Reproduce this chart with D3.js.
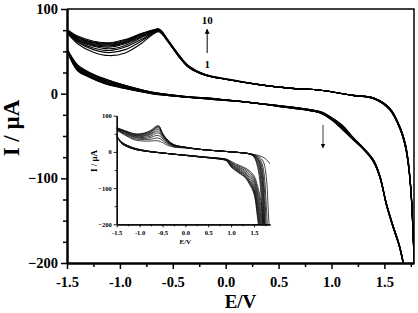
<!DOCTYPE html>
<html lang="en">
<head>
    <meta charset="UTF-8">
    <title>Cyclic voltammograms</title>
    <script src="https://cdn.jsdelivr.net/npm/d3@7"></script>
</head>
<style>
    body { margin: 0; background: #fff; }
    svg { display: block; font-family: "Liberation Serif", "Times New Roman", serif; font-weight: bold; }
</style>
<body>
    <div id="graphDiv"></div>

    <script>
        // ---- main plot: potentials (V) for each branch, currents (uA) per cycle 1..10
        var mainUpperE = [-1.5, -1.4, -1.25, -1.1, -0.95, -0.8, -0.7, -0.63, -0.55, -0.45, -0.35, -0.2, 0, 0.3, 0.6, 0.9, 1.2, 1.4, 1.55, 1.65, 1.7, 1.73, 1.755, 1.775, 1.79]
        var mainUpper = [
            [72, 59, 49, 45, 48, 59, 69, 73, 62, 45, 31, 22, 17, 11, 6.5, 4, -2, -5, -17, -40, -60, -84, -120, -175, -230],
            [72, 61, 52, 48.5, 52, 62, 70, 74, 62, 45, 31, 22, 17, 11, 6.5, 4, -2, -5, -17, -40, -60, -84, -120, -175, -230],
            [73, 62, 54, 51, 55, 64, 71, 74, 63, 45, 31, 22, 17, 11, 6.5, 4, -2, -5, -17, -40, -61, -85, -121, -176, -230],
            [73, 63, 56, 53, 57, 66, 72, 75, 63, 46, 31, 22, 17, 11, 6.5, 4, -2, -5, -18, -41, -61, -85, -121, -176, -231],
            [74, 64, 57, 55, 59, 67, 72, 75, 63, 46, 32, 22, 17, 11, 6.5, 4, -2, -5, -18, -41, -62, -86, -122, -177, -231],
            [74, 65, 58, 56.5, 60, 68, 73, 75, 64, 46, 32, 22, 17, 11, 6.5, 4, -2, -5, -18, -41, -62, -86, -122, -177, -232],
            [75, 66, 59, 57.5, 61, 69, 73, 76, 64, 46, 32, 23, 17, 11, 6.5, 4, -2, -6, -18, -42, -63, -87, -123, -178, -232],
            [75, 66.5, 60, 58.5, 62, 70, 74, 76, 64, 47, 32, 23, 17, 11, 6.5, 4, -2, -6, -19, -42, -63, -87, -123, -178, -233],
            [76, 67, 61, 59.3, 63, 70.5, 74, 76, 64, 47, 32, 23, 17, 11, 6.5, 4, -2, -6, -19, -42, -64, -88, -124, -179, -233],
            [76, 68, 62, 60, 64, 71, 75, 76, 64, 47, 33, 23, 18, 11, 6.5, 4, -2, -6, -19, -43, -64, -88, -124, -179, -234]
        ]
        var mainLowerE = [1.74, 1.7, 1.68, 1.64, 1.58, 1.52, 1.46, 1.4, 1.3, 1.2, 1.1, 1.0, 0.9, 0.75, 0.5, 0.2, -0.1, -0.4, -0.7, -0.95, -1.15, -1.3, -1.4, -1.5]
        var mainLower = [
            [-260, -215, -200, -178, -155, -130, -98, -79, -64, -51, -37, -28, -21.5, -18, -14, -10, -6, -3, 2, 10, 18, 26, 34, 53],
            [-260, -215, -200, -178, -155, -130, -98, -79, -64, -51.5, -37.5, -28.5, -21.5, -18, -14, -10, -6, -3, 2, 9.5, 17.5, 25, 33, 53],
            [-260, -215, -200, -178, -155, -130, -98, -79, -64, -51.5, -38, -28.5, -22, -18, -14, -10, -6, -3, 1.5, 9, 16.5, 24.5, 32, 52],
            [-261, -216, -201, -179, -156, -131, -99, -80, -64.5, -52, -38.5, -29, -22, -18.5, -14.5, -10, -6, -3.5, 1.5, 8.5, 16, 24, 31, 52],
            [-261, -216, -201, -179, -156, -131, -99, -80, -64.5, -52.5, -39, -29.5, -22.5, -18.5, -14.5, -10, -6.5, -3.5, 1, 8, 15, 23, 30.5, 52],
            [-261, -216, -201, -179, -156, -131, -99, -80, -65, -52.5, -40, -29.5, -22.5, -18.5, -14.5, -10, -6.5, -3.5, 1, 7.5, 14.5, 22, 30, 52],
            [-262, -217, -202, -180, -157, -132, -100, -81, -65, -53, -40.5, -30, -22.5, -19, -15, -10, -6.5, -4, 0.5, 7, 13.5, 21.5, 29, 51],
            [-262, -217, -202, -180, -157, -132, -100, -81, -65, -53.5, -41, -30.5, -23, -19, -15, -10, -7, -4, 0.5, 6.5, 13, 21, 28, 51],
            [-262, -217, -202, -180, -157, -132, -100, -81, -65.5, -53.5, -41.5, -30.5, -23, -19, -15, -10, -7, -4, 0, 6, 12.5, 20.5, 27.5, 51],
            [-262, -217, -202, -180, -157, -132, -100, -81, -65.5, -54, -42, -31, -23, -19, -15, -10, -7, -4, 0, 6, 12, 20, 27, 51]
        ]

        // ---- inset plot
        var insetUpperE = [-1.5, -1.3, -1.1, -0.9, -0.75, -0.65, -0.58, -0.5, -0.4, -0.25, 0, 0.4, 0.8, 1.2, 1.4, 1.5, 1.6, 1.67, 1.72, 1.77, 1.82, 1.86]
        var insetUpper = [
            [60, 45, 33, 30, 30, 31, 30, 26, 19, 13, 11, 6, 2, -2, -5, -7, -10, -13, -16, -21, -28, -35],
            [61, 47, 36, 34, 35, 38, 38, 32, 23, 15, 11, 6, 2, -2, -5, -8, -13, -20, -32, -70, -180, -260],
            [62, 49, 39, 37, 40, 45, 45, 37, 26, 16, 12, 6, 2, -2, -5, -9, -16, -30, -60, -150, -260, -300],
            [63, 51, 41, 40, 44, 51, 52, 41, 28, 17, 12, 6, 2, -2, -5, -9, -19, -40, -90, -210, -300, -300],
            [64, 52, 43, 43, 48, 56, 57, 44, 30, 18, 12, 6, 2, -2, -5, -10, -22, -50, -120, -250, -300, -300],
            [65, 54, 45, 45, 51, 60, 62, 47, 31, 18, 12, 6, 2, -2, -5, -10, -25, -62, -150, -280, -300, -300],
            [65, 55, 46, 47, 54, 64, 66, 49, 32, 19, 13, 6, 2, -2, -5, -11, -30, -75, -180, -300, -300, -300],
            [66, 56, 48, 49, 56, 66, 69, 50, 33, 19, 13, 6, 2, -2, -6, -12, -36, -95, -210, -300, -300, -300],
            [66, 57, 49, 51, 58, 68, 71, 51, 34, 20, 13, 6, 2, -2, -6, -13, -45, -120, -240, -300, -300, -300],
            [67, 58, 50, 52, 60, 70, 72, 52, 35, 20, 13, 6, 2, -2, -6, -14, -55, -150, -270, -300, -300, -300]
        ]
        var insetLowerE = [1.8, 1.72, 1.65, 1.58, 1.5, 1.4, 1.3, 1.2, 1.1, 1.0, 0.9, 0.7, 0.4, 0.1, -0.2, -0.5, -0.8, -1.1, -1.3, -1.4, -1.5]
        var insetLower = [
            [-280, -200, -135, -95, -66, -52, -44, -38, -33, -26, -20, -17, -14, -10, -7, -3, 2, 10, 20, 28, 38],
            [-300, -220, -150, -105, -72, -56, -47, -41, -36, -28, -21, -17, -14, -10, -7, -3, 2, 10, 20, 28, 39],
            [-320, -240, -165, -115, -78, -61, -51, -44, -38, -30, -21, -17, -14, -10, -7, -3, 2, 9, 19, 27, 40],
            [-340, -260, -180, -125, -85, -66, -55, -47, -41, -32, -22, -18, -14, -10, -7, -3, 1, 9, 19, 27, 41],
            [-350, -275, -195, -135, -92, -71, -58, -50, -43, -34, -22, -18, -15, -11, -7, -3, 1, 8, 18, 26, 42],
            [-360, -290, -210, -145, -98, -76, -61, -53, -45, -36, -23, -18, -15, -11, -7, -3, 1, 8, 18, 26, 43],
            [-370, -300, -220, -155, -104, -80, -64, -55, -47, -37, -23, -18, -15, -11, -7, -3, 1, 8, 17, 25, 44],
            [-380, -310, -235, -165, -108, -83, -66, -57, -49, -39, -24, -19, -15, -11, -7, -3, 1, 7, 17, 25, 45],
            [-390, -320, -245, -175, -112, -86, -68, -59, -50, -40, -24, -19, -15, -11, -7, -3, 1, 7, 16, 24, 46],
            [-400, -330, -255, -185, -116, -89, -70, -61, -52, -42, -25, -19, -15, -11, -7, -3, 1, 7, 16, 24, 46]
        ]

        // tick values
        var xMajor = [-1.5, -1.0, -0.5, 0.0, 0.5, 1.0, 1.5]
        var xMinor = [-1.25, -0.75, -0.25, 0.25, 0.75, 1.25, 1.75]
        var yMajor = [-200, -100, 0, 100]
        var yMinor = [-175, -150, -125, -75, -50, -25, 25, 50, 75]
        var insetYMinor = [-150, -50, 50]

        var width = 418
        var height = 313

        var svg = d3.select('#graphDiv')
                    .append('svg')
                    .attr('width', width)
                    .attr('height', height)

        var xScale = d3.scaleLinear().domain([-1.5, 1.78]).range([67, 414])
        var yScale = d3.scaleLinear().domain([-200, 100]).range([263, 9])

        var xIn = d3.scaleLinear().domain([-1.5, 1.85]).range([116.7, 270])
        var yIn = d3.scaleLinear().domain([-200, 100]).range([224.3, 115.7])

        var defs = svg.append('defs')
        defs.append('clipPath').attr('id', 'clipMain')
            .append('rect')
            .attr('x', xScale.range()[0]).attr('y', yScale.range()[1])
            .attr('width', xScale.range()[1] - xScale.range()[0])
            .attr('height', yScale.range()[0] - yScale.range()[1])
        defs.append('clipPath').attr('id', 'clipInset')
            .append('rect')
            .attr('x', xIn.range()[0]).attr('y', yIn.range()[1] - 3)
            .attr('width', xIn.range()[1] - xIn.range()[0])
            .attr('height', yIn.range()[0] - yIn.range()[1] + 3)

        function drawCycles(group, eVals, rows, xs, ys, sw, color) {
            var line = d3.line()
                        .x(d => xs(d[0]))
                        .y(d => ys(d[1]))
                        .curve(d3.curveCatmullRom.alpha(0.5))
            rows.forEach(row => {
                group.append('path')
                    .datum(eVals.map((e, i) => [e, row[i]]))
                    .attr('d', line)
                    .attr('fill', 'none')
                    .attr('stroke', color)
                    .attr('stroke-width', sw)
                    .attr('stroke-linejoin', 'round')
            })
        }

        function styleAxis(g, fontSize, domainWidth) {
            g.selectAll('text')
                .attr('font-size', fontSize)
                .attr('font-family', '"Liberation Serif", "Times New Roman", serif')
                .attr('font-weight', 'bold')
                .attr('fill', '#000')
            g.select('.domain').attr('stroke-width', domainWidth)
            g.selectAll('.tick line').attr('stroke-width', domainWidth * 0.75)
        }

        // ---- main curves
        var mainCurves = svg.append('g').attr('clip-path', 'url(#clipMain)')
        drawCycles(mainCurves, mainUpperE, mainUpper, xScale, yScale, 1.1, '#000')
        drawCycles(mainCurves, mainLowerE, mainLower, xScale, yScale, 1.1, '#000')

        // ---- main axes
        var fmt = d => d.toFixed(1)
        var xMinorG = svg.append('g').attr('transform', 'translate(0,263)')
            .call(d3.axisBottom(xScale).tickValues(xMinor).tickSize(4).tickSizeOuter(0).tickFormat(''))
        styleAxis(xMinorG, 14, 2)
        var xAxisG = svg.append('g').attr('transform', 'translate(0,263)')
            .call(d3.axisBottom(xScale).tickValues(xMajor).tickSize(6).tickSizeOuter(0).tickPadding(8).tickFormat(fmt))
        styleAxis(xAxisG, 14.5, 2)

        var yMinorG = svg.append('g').attr('transform', 'translate(67,0)')
            .call(d3.axisLeft(yScale).tickValues(yMinor).tickSize(4).tickSizeOuter(0).tickFormat(''))
        styleAxis(yMinorG, 14, 2)
        var yAxisG = svg.append('g').attr('transform', 'translate(67,0)')
            .call(d3.axisLeft(yScale).tickValues(yMajor).tickSize(6).tickSizeOuter(0).tickPadding(3).tickFormat(d3.format('d')))
        styleAxis(yAxisG, 14.5, 2)

        // top and right frame
        svg.append('path')
            .attr('d', `M${xScale.range()[0]},${yScale.range()[1]}H${xScale.range()[1]}V${yScale.range()[0]}`)
            .attr('fill', 'none')
            .attr('stroke', '#000')
            .attr('stroke-width', 1.5)

        svg.append('text')
            .attr('x', (xScale.range()[0] + xScale.range()[1]) / 2)
            .attr('y', 308)
            .attr('text-anchor', 'middle')
            .attr('font-size', 19)
            .text('E/V')

        svg.append('text')
            .attr('transform', 'translate(19,128) rotate(-90)')
            .attr('text-anchor', 'middle')
            .attr('font-size', 23)
            .text('I / µA')

        // ---- cycle annotations
        var arrowDef = defs.append('marker')
            .attr('id', 'head')
            .attr('viewBox', '0 0 10 10')
            .attr('refX', 9).attr('refY', 5)
            .attr('markerWidth', 5).attr('markerHeight', 6)
            .attr('orient', 'auto')
        arrowDef.append('path').attr('d', 'M0,0L10,5L0,10Z').attr('fill', '#000')

        var arrowUpE = -0.175
        svg.append('line')
            .attr('x1', xScale(arrowUpE)).attr('x2', xScale(arrowUpE))
            .attr('y1', yScale(48)).attr('y2', yScale(76))
            .attr('stroke', '#000').attr('stroke-width', 1)
            .attr('marker-end', 'url(#head)')
        svg.append('text')
            .attr('x', xScale(arrowUpE)).attr('y', yScale(82))
            .attr('text-anchor', 'middle').attr('font-size', 11)
            .text('10')
        svg.append('text')
            .attr('x', xScale(arrowUpE)).attr('y', yScale(30))
            .attr('text-anchor', 'middle').attr('font-size', 11)
            .text('1')

        var arrowDownE = 0.92
        svg.append('line')
            .attr('x1', xScale(arrowDownE)).attr('x2', xScale(arrowDownE))
            .attr('y1', yScale(-37)).attr('y2', yScale(-64))
            .attr('stroke', '#222').attr('stroke-width', 0.9)
            .attr('marker-end', 'url(#head)')

        // ---- inset
        var insetCurves = svg.append('g').attr('clip-path', 'url(#clipInset)')
        drawCycles(insetCurves, insetUpperE, insetUpper, xIn, yIn, 0.8, '#111')
        drawCycles(insetCurves, insetLowerE, insetLower, xIn, yIn, 0.8, '#111')

        var inXMinor = svg.append('g').attr('transform', `translate(0,${yIn.range()[0]})`)
            .call(d3.axisBottom(xIn).tickValues(xMinor).tickSize(2).tickSizeOuter(0).tickFormat(''))
        styleAxis(inXMinor, 6.5, 1.2)
        var inXAxis = svg.append('g').attr('transform', `translate(0,${yIn.range()[0]})`)
            .call(d3.axisBottom(xIn).tickValues(xMajor).tickSize(3).tickSizeOuter(0).tickPadding(3.5).tickFormat(fmt))
        styleAxis(inXAxis, 6.5, 1.2)

        var inYMinor = svg.append('g').attr('transform', `translate(${xIn.range()[0]},0)`)
            .call(d3.axisLeft(yIn).tickValues(insetYMinor).tickSize(2).tickSizeOuter(0).tickFormat(''))
        styleAxis(inYMinor, 6.5, 1.2)
        var inYAxis = svg.append('g').attr('transform', `translate(${xIn.range()[0]},0)`)
            .call(d3.axisLeft(yIn).tickValues(yMajor).tickSize(3).tickSizeOuter(0).tickPadding(2).tickFormat(d3.format('d')))
        styleAxis(inYAxis, 6.5, 1.2)

        svg.append('text')
            .attr('x', xIn(0))
            .attr('y', 244)
            .attr('text-anchor', 'middle')
            .attr('font-size', 7)
            .text('E/V')

        svg.append('text')
            .attr('transform', 'translate(97,161) rotate(-90)')
            .attr('text-anchor', 'middle')
            .attr('font-size', 9)
            .text('I / µA')
    </script>
</body>
</html>
